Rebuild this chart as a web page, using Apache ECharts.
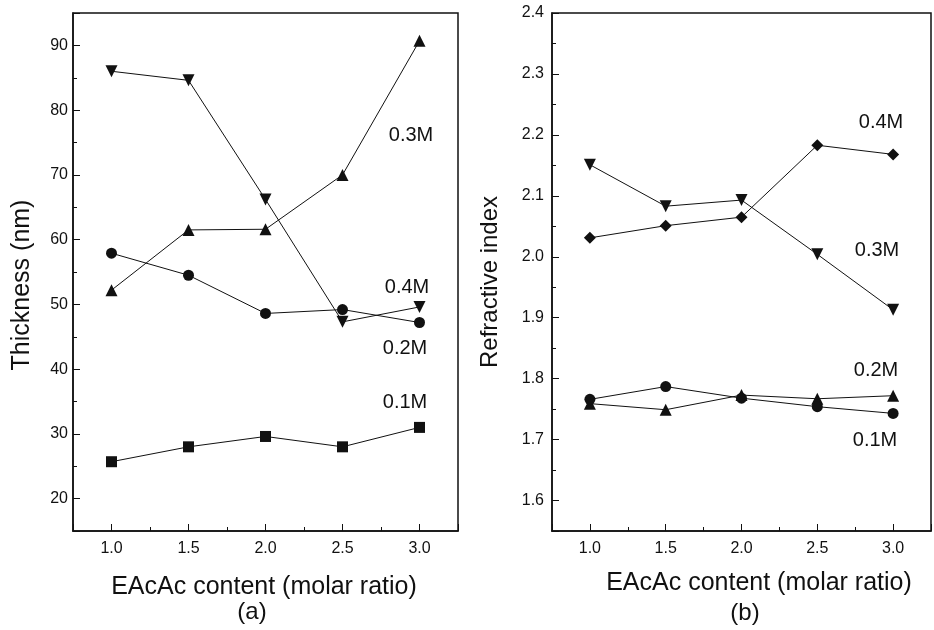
<!DOCTYPE html>
<html>
<head>
<meta charset="utf-8">
<script src="https://cdn.jsdelivr.net/npm/echarts@6/dist/echarts.min.js"></script>
<style>html,body{margin:0;padding:0;background:#fff;}#c{width:934px;height:630px;}</style>
</head>
<body>
<div id="c"></div>
<script>
// ---- data ----
const xValues = [1.0, 1.5, 2.0, 2.5, 3.0];
// (a) Thickness (nm)
const thick01 = [25.7, 28.0, 29.6, 28.0, 31.0];   // squares
const thick02 = [57.9, 54.5, 48.6, 49.2, 47.2];   // circles
const thick03 = [52.2, 61.5, 61.6, 70.0, 90.7];   // up triangles
const thick04 = [86.0, 84.6, 66.2, 47.3, 49.6];   // down triangles
// (b) Refractive index
const ri04 = [2.031, 2.051, 2.065, 2.183, 2.168]; // diamonds
const ri03 = [2.151, 2.083, 2.093, 2.004, 1.913]; // down triangles
const ri02 = [1.759, 1.749, 1.773, 1.767, 1.772]; // up triangles
const ri01 = [1.766, 1.787, 1.768, 1.754, 1.743]; // circles
// tick labels
const xTicks = [1.0, 1.5, 2.0, 2.5, 3.0];
const xTickLabels = ['1.0', '1.5', '2.0', '2.5', '3.0'];
const thickTicks = [20, 30, 40, 50, 60, 70, 80, 90];
const thickTickLabels = ['20', '30', '40', '50', '60', '70', '80', '90'];
const riTicks = [1.6, 1.7, 1.8, 1.9, 2.0, 2.1, 2.2, 2.3, 2.4];
const riTickLabels = ['1.6', '1.7', '1.8', '1.9', '2.0', '2.1', '2.2', '2.3', '2.4'];

const FONT = '"Liberation Sans", Arial, sans-serif';
const INK = '#111';

function fmt(ticks, labels) {
  return function (v) {
    const i = ticks.findIndex(t => Math.abs(t - v) < 1e-6);
    return i >= 0 ? labels[i] : '';
  };
}
function pairs(ys) { return xValues.map((x, i) => [x, ys[i]]); }

function minorAxis(gridIndex, min, max, interval, pos) {
  return {
    type: 'value', gridIndex, min, max, interval, position: pos,
    axisLine: { show: true, lineStyle: { color: INK, width: 1.5 } },
    axisTick: { show: true, inside: true, length: 4, lineStyle: { color: INK, width: 1 } },
    axisLabel: { show: false },
    splitLine: { show: false }
  };
}
function majorAxis(gridIndex, min, max, splitNumber, pos, ticks, labels, margin) {
  return {
    type: 'value', gridIndex, min, max, splitNumber, position: pos,
    axisLine: { show: false },
    axisTick: { show: true, inside: true, length: 7, lineStyle: { color: INK, width: 1 } },
    axisLabel: { show: true, color: INK, fontSize: 16, fontFamily: FONT, margin, formatter: fmt(ticks, labels) },
    splitLine: { show: false }
  };
}

function lineSeries(xi, yi, ys, symbol, size, rotate) {
  return {
    type: 'line', xAxisIndex: xi, yAxisIndex: yi, data: pairs(ys),
    symbol, symbolSize: size, symbolRotate: rotate || 0, showAllSymbol: true,
    lineStyle: { color: INK, width: 1 },
    itemStyle: { color: INK },
    emphasis: { disabled: true },
    animation: false
  };
}

function txt(x, y, text, size, rot) {
  return {
    type: 'text', x, y, rotation: rot || 0, silent: true,
    style: { text, fill: INK, font: size + 'px ' + FONT, align: 'center', verticalAlign: 'middle' }
  };
}

const chart = echarts.init(document.getElementById('c'), null, { renderer: 'canvas' });
chart.setOption({
  backgroundColor: '#fff',
  animation: false,
  grid: [
    { left: 73, top: 13, width: 385, height: 518, show: true, borderColor: INK, borderWidth: 1.5, backgroundColor: 'transparent' },
    { left: 552, top: 13, width: 388, height: 518, show: true, borderColor: INK, borderWidth: 1.5, backgroundColor: 'transparent' }
  ],
  xAxis: [
    minorAxis(0, 0.75, 3.25, 0.25, 'bottom'),
    majorAxis(0, 0.75, 3.25, 5, 'bottom', xTicks, xTickLabels, 10),
    minorAxis(1, 0.75, 3.25, 0.25, 'bottom'),
    majorAxis(1, 0.75, 3.25, 5, 'bottom', xTicks, xTickLabels, 10)
  ],
  yAxis: [
    minorAxis(0, 15, 95, 5, 'left'),
    majorAxis(0, 15, 95, 8, 'left', thickTicks, thickTickLabels, 5),
    minorAxis(1, 1.55, 2.4, 0.05, 'left'),
    majorAxis(1, 1.55, 2.4, 8, 'left', riTicks, riTickLabels, 8)
  ],
  series: [
    lineSeries(0, 0, thick01, 'rect', 11),
    lineSeries(0, 0, thick02, 'circle', 11),
    lineSeries(0, 0, thick03, 'triangle', 12),
    lineSeries(0, 0, thick04, 'triangle', 12, 180),
    lineSeries(2, 2, ri04, 'diamond', 12),
    lineSeries(2, 2, ri03, 'triangle', 12, 180),
    lineSeries(2, 2, ri02, 'triangle', 12),
    lineSeries(2, 2, ri01, 'circle', 11)
  ],
  graphic: [
    txt(22, 285, 'Thickness (nm)', 25, Math.PI / 2),
    txt(264, 587, 'EAcAc content (molar ratio)', 25),
    txt(252, 612, '(a)', 24),
    txt(490, 282, 'Refractive index', 24, Math.PI / 2),
    txt(759, 583, 'EAcAc content (molar ratio)', 25),
    txt(745, 613, '(b)', 24),
    txt(411, 135, '0.3M', 20),
    txt(407, 287, '0.4M', 20),
    txt(405, 348, '0.2M', 20),
    txt(405, 402, '0.1M', 20),
    txt(881, 122, '0.4M', 20),
    txt(877, 250, '0.3M', 20),
    txt(876, 370, '0.2M', 20),
    txt(875, 440, '0.1M', 20)
  ]
});
</script>
</body>
</html>
